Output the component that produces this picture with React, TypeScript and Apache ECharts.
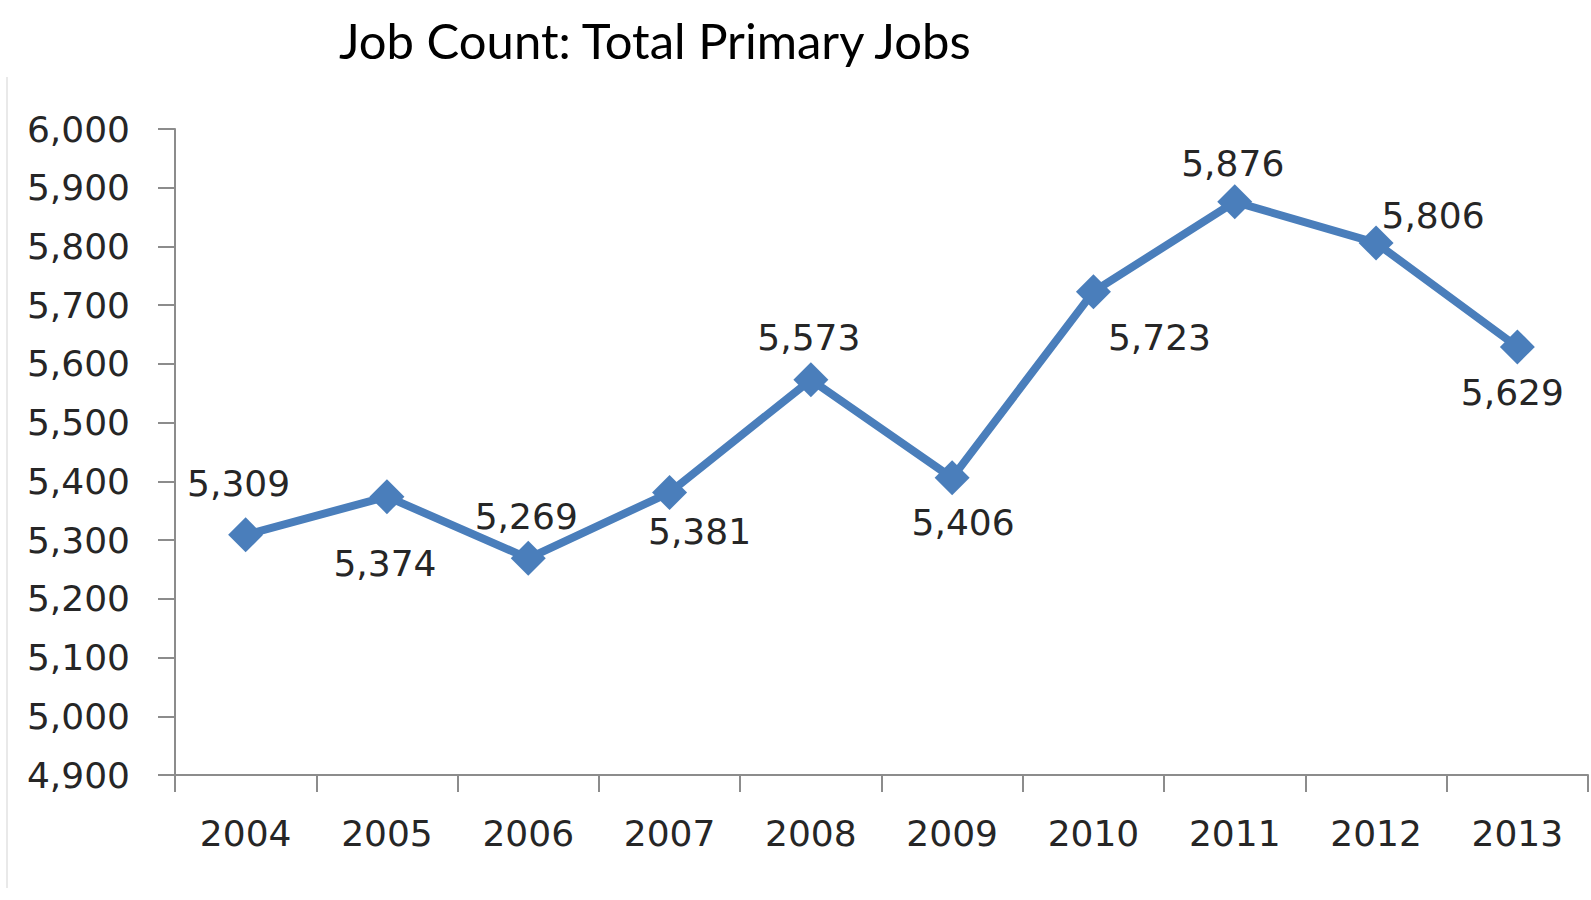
import React, { useEffect, useRef } from "react";
import * as echarts from "echarts";

const years = ["2004", "2005", "2006", "2007", "2008", "2009", "2010", "2011", "2012", "2013"];
const jobs = [5309, 5374, 5269, 5381, 5573, 5406, 5723, 5876, 5806, 5629];
const titleText = "Job Count: Total Primary Jobs";
const yMin = 4900;
const yMax = 6000;
const yStep = 100;

// label placement (layout, not data)
const labelOffsets: [number, number][] = [
  [-7, -51],
  [-2, 67],
  [-2, -42],
  [30, 39],
  [-2, -42],
  [11, 45],
  [66, 46],
  [-2, -38],
  [57, -27],
  [-5, 46],
];

const fmt = (v: number) => v.toLocaleString("en-US");

export default function App() {
  const ref = useRef<HTMLDivElement>(null);
  useEffect(() => {
    if (!ref.current) return;
    const chart = echarts.init(ref.current, null, { renderer: "svg" });
    const font = "'DejaVu Sans', Verdana, sans-serif";
    chart.setOption({
      animation: false,
      backgroundColor: "#ffffff",
      title: {
        text: titleText,
        left: 334,
        top: 10,
        textStyle: {
          fontFamily: "Lato, 'Open Sans', sans-serif",
          fontWeight: "normal",
          fontSize: 49,
          color: "#000000",
        },
      },
      graphic: [
        {
          type: "line",
          shape: { x1: 7, y1: 77, x2: 7, y2: 888 },
          style: { stroke: "#e2e2e2", lineWidth: 1.5 },
        },
      ],
      grid: { left: 175, right: 3, top: 129, bottom: 125, containLabel: false },
      xAxis: {
        type: "category",
        data: years,
        boundaryGap: true,
        axisLine: { lineStyle: { color: "#8c8c8c", width: 2 } },
        axisTick: { show: true, length: 17, lineStyle: { color: "#8c8c8c", width: 2 } },
        axisLabel: { fontFamily: font, fontSize: 36, color: "#262626", margin: 40 },
        splitLine: { show: false },
      },
      yAxis: {
        type: "value",
        min: yMin,
        max: yMax,
        interval: yStep,
        axisLine: { show: true, lineStyle: { color: "#8c8c8c", width: 2 } },
        axisTick: { show: true, length: 17, lineStyle: { color: "#8c8c8c", width: 2 } },
        axisLabel: {
          fontFamily: font,
          fontSize: 36,
          color: "#262626",
          margin: 45,
          formatter: (v: number) => fmt(v),
        },
        splitLine: { show: false },
      },
      series: [
        {
          type: "line",
          data: jobs.map((v, i) => ({
            value: v,
            label: { offset: labelOffsets[i] },
          })),
          symbol: "diamond",
          symbolSize: 35,
          showAllSymbol: true,
          lineStyle: { color: "#4A7EBB", width: 8 },
          itemStyle: { color: "#4A7EBB" },
          label: {
            show: true,
            position: "inside",
            fontFamily: font,
            fontSize: 36,
            color: "#262626",
            formatter: (p: any) => fmt(p.value),
          },
          z: 3,
        },
      ],
    });
    return () => chart.dispose();
  }, []);
  return (
    <div
      ref={ref}
      style={{ position: "fixed", left: 0, top: 0, width: 1591, height: 900, background: "#fff" }}
    />
  );
}
